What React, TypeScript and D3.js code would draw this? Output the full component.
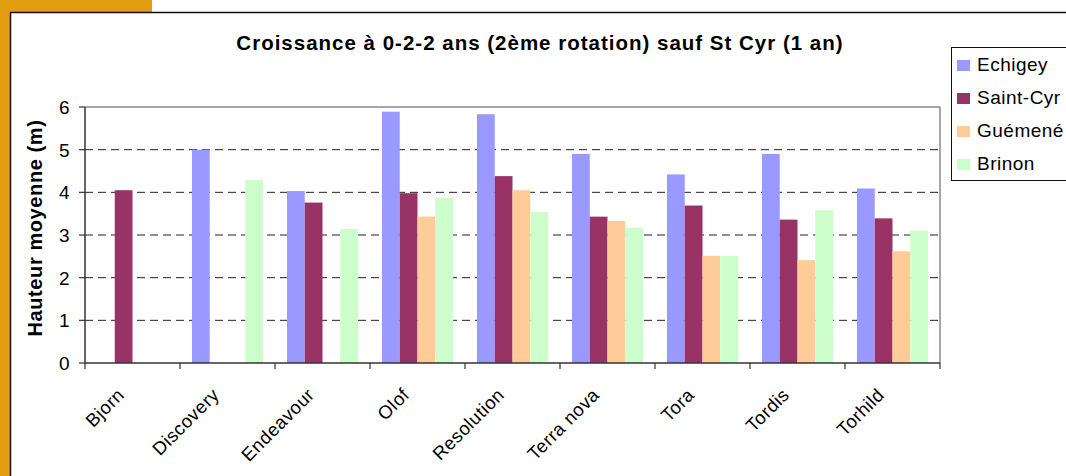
import React from "react";
import * as d3 from "d3";

const categories = ["Bjorn", "Discovery", "Endeavour", "Olof", "Resolution", "Terra nova", "Tora", "Tordis", "Torhild"];
const seriesNames = ["Echigey", "Saint-Cyr", "Guémené", "Brinon"];
const echigey = [null, 5.0, 4.03, 5.89, 5.83, 4.9, 4.42, 4.9, 4.09];
const saintCyr = [4.05, null, 3.76, 3.98, 4.38, 3.43, 3.69, 3.36, 3.39];
const guemene = [null, null, null, 3.43, 4.05, 3.33, 2.51, 2.41, 2.62];
const brinon = [null, 4.29, 3.14, 3.87, 3.54, 3.17, 2.51, 3.58, 3.1];
const yTicks = [0, 1, 2, 3, 4, 5, 6];
const colors = ["#9999FF", "#993366", "#FFCC99", "#CCFFCC"];
const seriesValues = [echigey, saintCyr, guemene, brinon];

const W = 1066, H = 476;
const left = 85, right = 940, top = 107, bottom = 363;
const FONT = "'Liberation Sans', Arial, sans-serif";

export default function App() {
  const x = d3.scaleBand<string>().domain(categories).range([left, right]).paddingInner(0).paddingOuter(0);
  const y = d3.scaleLinear().domain([0, 6]).range([bottom, top]);
  const bw = x.bandwidth();
  const barW = bw / 5.35;
  const groupOff = (bw - 4 * barW) / 2;

  return (
    <svg width={W} height={H} style={{ position: "fixed", left: 0, top: 0, background: "#fff" }} fontFamily={FONT}>
      <rect x={0} y={0} width={W} height={H} fill="#fff" />
      <rect x={0} y={0} width={152} height={12} fill="#E19E10" />
      <rect x={0} y={0} width={10} height={H} fill="#E19E10" />
      <path d={`M10.5,${H} V12.5 H${W}`} fill="none" stroke="#111" strokeWidth={1.5} />

      <text x={540} y={50} textAnchor="middle" fontSize={20.5} fontWeight="bold" letterSpacing={1}>
        Croissance à 0-2-2 ans (2ème rotation) sauf St Cyr (1 an)
      </text>

      {yTicks.filter(t => t > 0 && t < 6).map(t => (
        <line key={t} x1={left} x2={right} y1={y(t)} y2={y(t)} stroke="#222" strokeDasharray="8,5" strokeWidth={1} />
      ))}
      <line x1={left} x2={right} y1={y(6)} y2={y(6)} stroke="#888" strokeWidth={1.5} />
      <line x1={right} x2={right} y1={top} y2={bottom} stroke="#888" strokeWidth={1.5} />

      {categories.map((c, i) =>
        seriesValues.map((vals, s) => {
          const v = vals[i];
          if (v == null) return null;
          return (
            <rect key={c + s} x={(x(c) as number) + groupOff + s * barW} y={y(v)} width={barW} height={bottom - y(v)}
              fill={colors[s]} />
          );
        })
      )}

      <line x1={left} x2={left} y1={top} y2={bottom} stroke="#333" strokeWidth={1.5} />
      <line x1={left} x2={right} y1={bottom} y2={bottom} stroke="#333" strokeWidth={1.5} />
      {yTicks.map(t => (
        <g key={t}>
          <line x1={left - 6} x2={left} y1={y(t)} y2={y(t)} stroke="#333" strokeWidth={1.2} />
          <text x={left - 15} y={y(t) + 7} textAnchor="end" fontSize={19} letterSpacing={0.5}>{t}</text>
        </g>
      ))}
      {categories.concat([""]).map((c, i) => {
        const xx = left + i * bw;
        return <line key={"t" + i} x1={xx} x2={xx} y1={bottom} y2={bottom + 6} stroke="#333" strokeWidth={1.2} />;
      })}
      {categories.map(c => {
        const cx = (x(c) as number) + bw / 2 - 7;
        const cy = bottom + 33;
        return (
          <text key={"l" + c} x={cx} y={cy} textAnchor="end" fontSize={18.5} letterSpacing={0.5} transform={`rotate(-45,${cx},${cy})`}>{c}</text>
        );
      })}

      <text transform={`translate(42,228) rotate(-90)`} textAnchor="middle" fontSize={20} fontWeight="bold" letterSpacing={0.6}>
        Hauteur moyenne (m)
      </text>

      <rect x={951.5} y={47.5} width={130} height={133} fill="#fff" stroke="#111" strokeWidth={1} />
      {seriesNames.map((n, i) => {
        const yy = 71 + i * 33;
        return (
          <g key={n}>
            <rect x={957} y={yy - 11} width={13} height={11} fill={colors[i]} />
            <text x={977} y={yy} fontSize={19} letterSpacing={0.5}>{n}</text>
          </g>
        );
      })}
    </svg>
  );
}
